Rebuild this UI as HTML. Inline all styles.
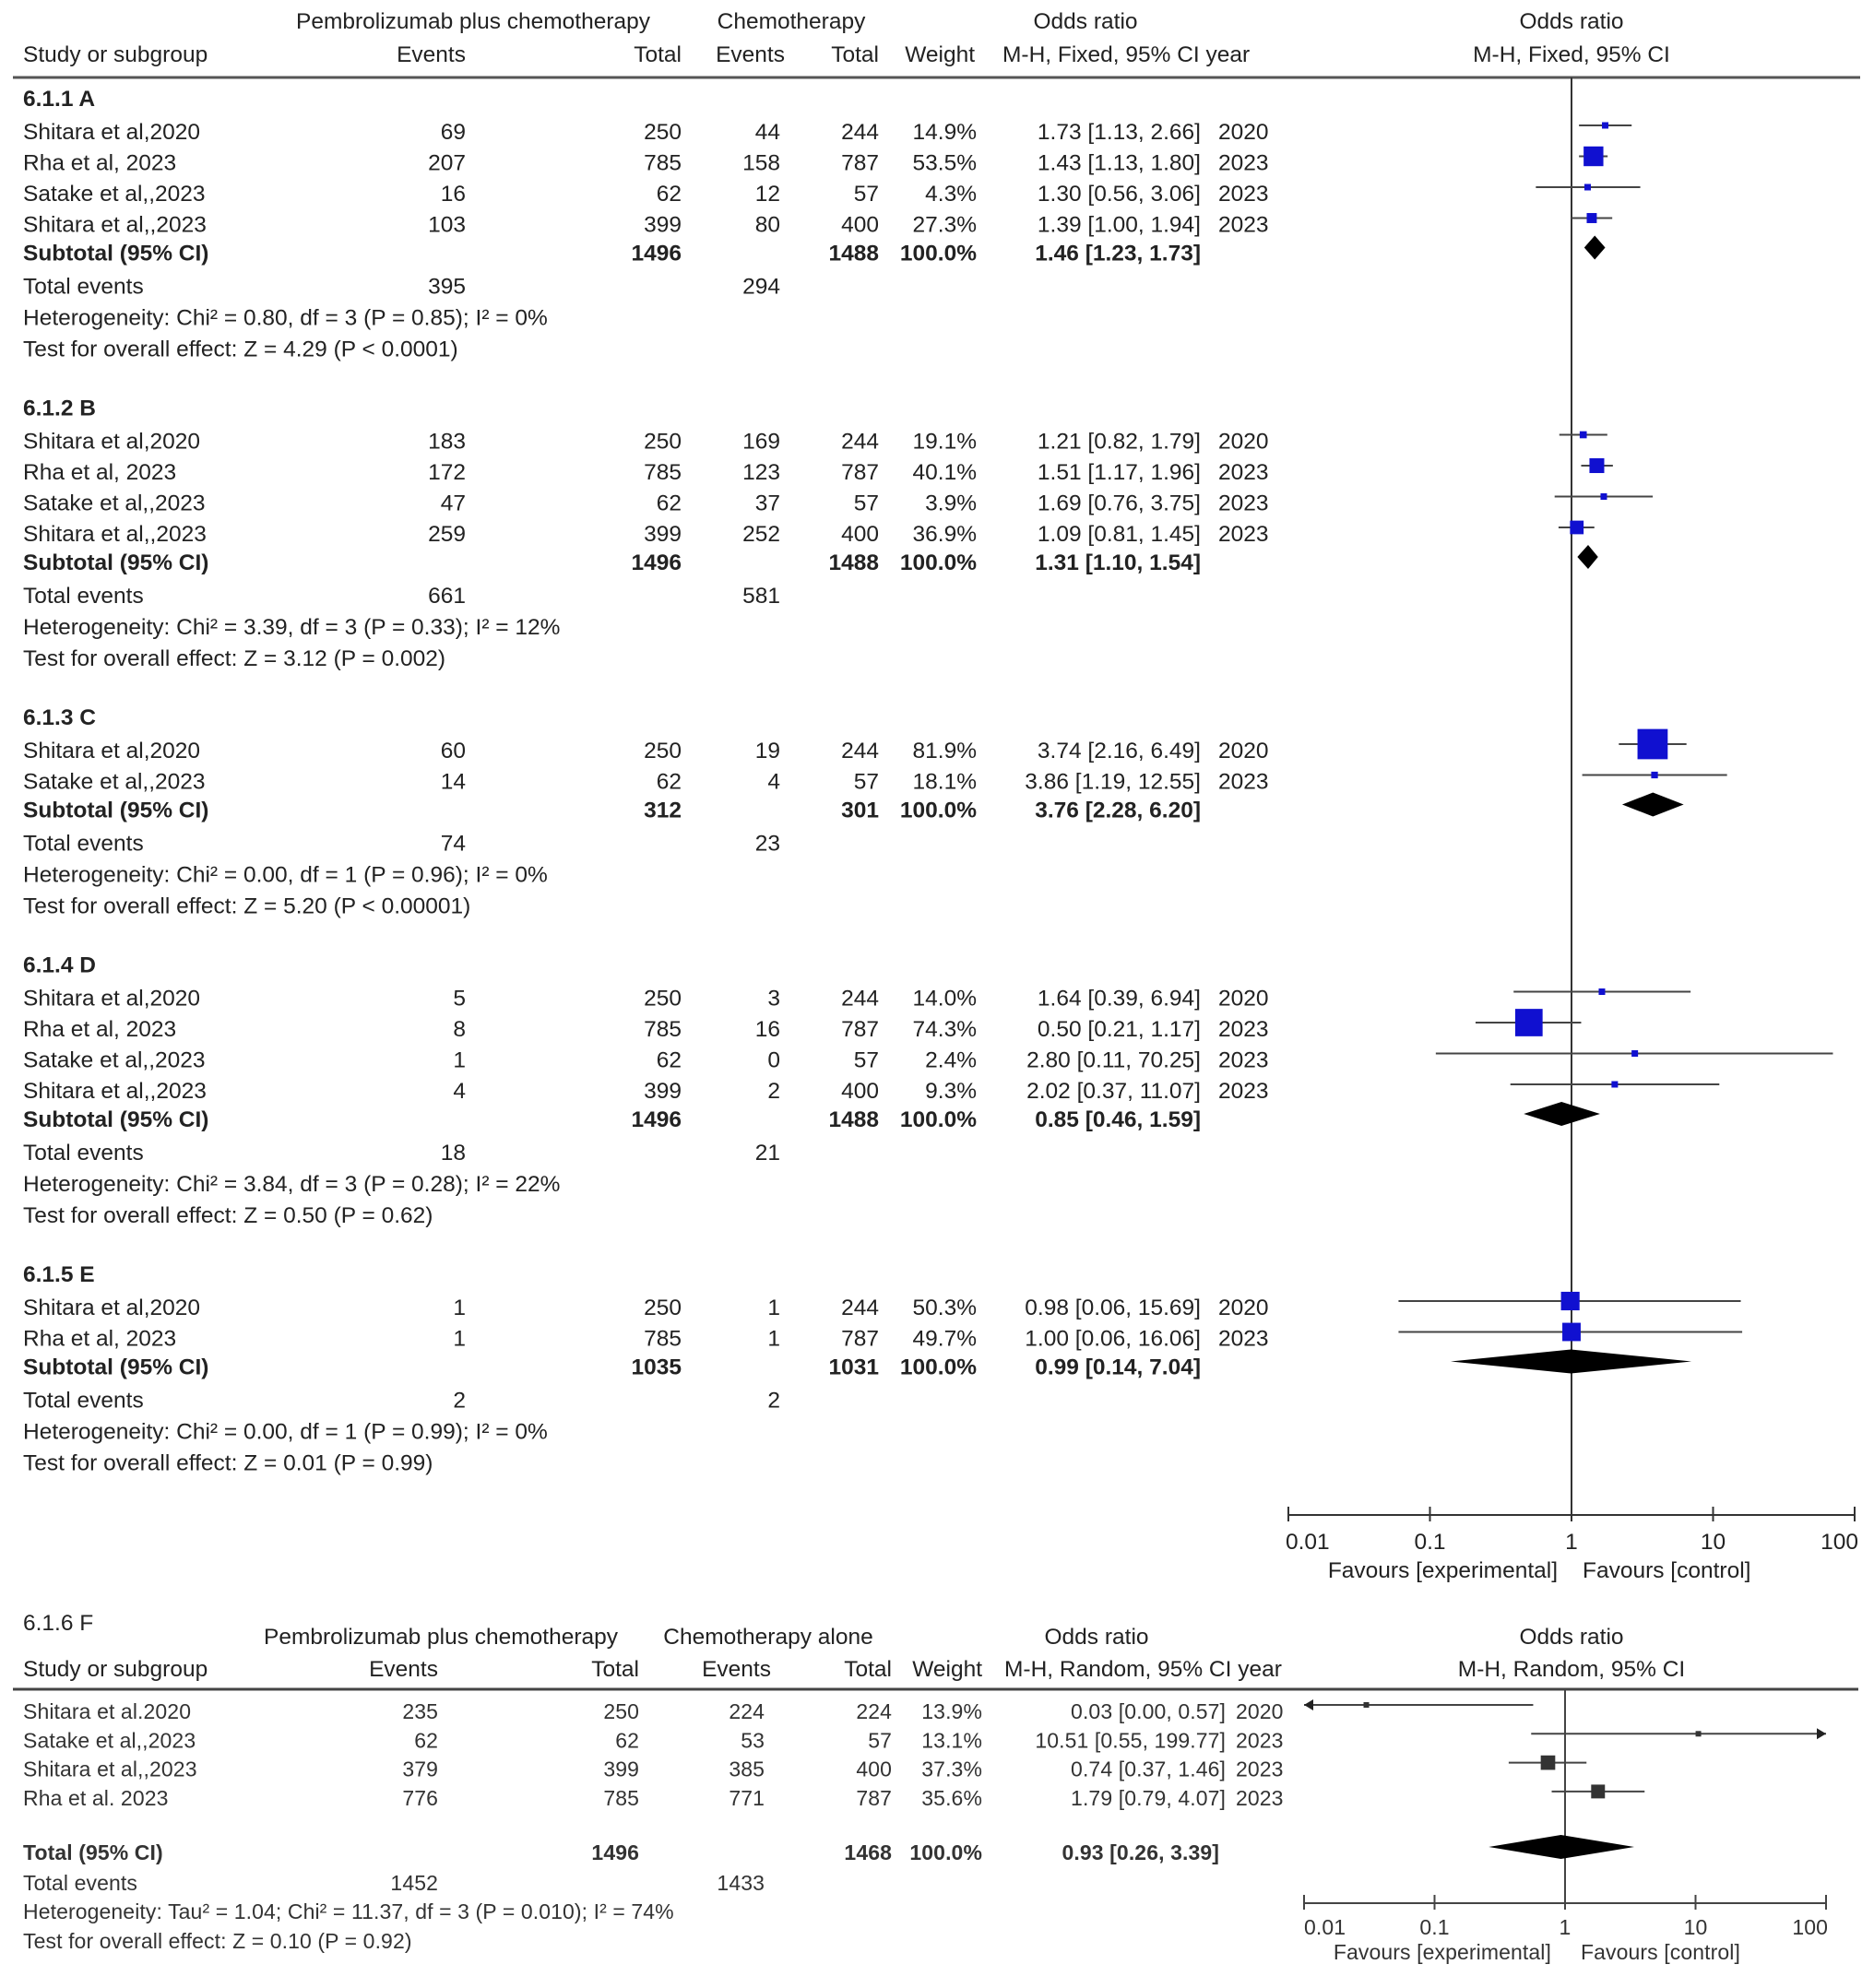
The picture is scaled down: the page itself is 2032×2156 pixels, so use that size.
<!DOCTYPE html>
<html><head><meta charset="utf-8">
<style>
html,body{margin:0;padding:0;background:#fff;}
svg{display:block;font-family:"Liberation Sans",sans-serif;}
.t{font-size:24.5px;fill:#222;letter-spacing:0px;}
.b{font-weight:bold;}
.s{font-size:23px;fill:#333;letter-spacing:0.1px;}
</style></head>
<body>
<svg id="chart" width="2032" height="2156" viewBox="0 0 2032 2156" xmlns="http://www.w3.org/2000/svg"></svg>
<script>
// ---- Top panel data (subgroups A–E) ----
const groupLabels = ['6.1.1 A','6.1.2 B','6.1.3 C','6.1.4 D','6.1.5 E'];
const groupOf = [0,0,0,0, 1,1,1,1, 2,2, 3,3,3,3, 4,4];
const studyNames = ['Shitara et al,2020','Rha et al, 2023','Satake et al,,2023','Shitara et al,,2023',
 'Shitara et al,2020','Rha et al, 2023','Satake et al,,2023','Shitara et al,,2023',
 'Shitara et al,2020','Satake et al,,2023',
 'Shitara et al,2020','Rha et al, 2023','Satake et al,,2023','Shitara et al,,2023',
 'Shitara et al,2020','Rha et al, 2023'];
const expEvents = [69,207,16,103, 183,172,47,259, 60,14, 5,8,1,4, 1,1];
const expTotal = [250,785,62,399, 250,785,62,399, 250,62, 250,785,62,399, 250,785];
const ctlEvents = [44,158,12,80, 169,123,37,252, 19,4, 3,16,0,2, 1,1];
const ctlTotal = [244,787,57,400, 244,787,57,400, 244,57, 244,787,57,400, 244,787];
const weights = [14.9,53.5,4.3,27.3, 19.1,40.1,3.9,36.9, 81.9,18.1, 14.0,74.3,2.4,9.3, 50.3,49.7];
const orVals = [1.73,1.43,1.30,1.39, 1.21,1.51,1.69,1.09, 3.74,3.86, 1.64,0.50,2.80,2.02, 0.98,1.00];
const orLo = [1.13,1.13,0.56,1.00, 0.82,1.17,0.76,0.81, 2.16,1.19, 0.39,0.21,0.11,0.37, 0.06,0.06];
const orHi = [2.66,1.80,3.06,1.94, 1.79,1.96,3.75,1.45, 6.49,12.55, 6.94,1.17,70.25,11.07, 15.69,16.06];
const years = [2020,2023,2023,2023, 2020,2023,2023,2023, 2020,2023, 2020,2023,2023,2023, 2020,2023];
const subExpTotal = [1496,1496,312,1496,1035];
const subCtlTotal = [1488,1488,301,1488,1031];
const subOR = [1.46,1.31,3.76,0.85,0.99];
const subLo = [1.23,1.10,2.28,0.46,0.14];
const subHi = [1.73,1.54,6.20,1.59,7.04];
const subExpEvents = [395,661,74,18,2];
const subCtlEvents = [294,581,23,21,2];
const hetText = ['Heterogeneity: Chi² = 0.80, df = 3 (P = 0.85); I² = 0%','Heterogeneity: Chi² = 3.39, df = 3 (P = 0.33); I² = 12%','Heterogeneity: Chi² = 0.00, df = 1 (P = 0.96); I² = 0%','Heterogeneity: Chi² = 3.84, df = 3 (P = 0.28); I² = 22%','Heterogeneity: Chi² = 0.00, df = 1 (P = 0.99); I² = 0%'];
const testText = ['Test for overall effect: Z = 4.29 (P < 0.0001)','Test for overall effect: Z = 3.12 (P = 0.002)','Test for overall effect: Z = 5.20 (P < 0.00001)','Test for overall effect: Z = 0.50 (P = 0.62)','Test for overall effect: Z = 0.01 (P = 0.99)'];
const tickLabels = ['0.01','0.1','1','10','100'];
const tickValues = [0.01,0.1,1,10,100];

// ---- Bottom panel data (F, random effects) ----
const fNames = ['Shitara et al.2020','Satake et al,,2023','Shitara et al,,2023','Rha et al. 2023'];
const fExpEvents = [235,62,379,776];
const fExpTotal = [250,62,399,785];
const fCtlEvents = [224,53,385,771];
const fCtlTotal = [224,57,400,787];
const fWeights = [13.9,13.1,37.3,35.6];
const fOR = [0.03,10.51,0.74,1.79];
const fLo = [0.00,0.55,0.37,0.79];
const fHi = [0.57,199.77,1.46,4.07];
const fYears = [2020,2023,2023,2023];
const fTotOR = [0.93], fTotLo = [0.26], fTotHi = [3.39];
const fTotals = [1496,1468];
const fTotEvents = [1452,1433];

const NS='http://www.w3.org/2000/svg';
const svg=document.getElementById('chart');
function mk(tag,attrs,parent){const e=document.createElementNS(NS,tag);for(const k in attrs)e.setAttribute(k,attrs[k]);(parent||svg).appendChild(e);return e;}
function txt(x,y,s,anchor,cls,name){const e=mk('text',{x:x,y:y,'text-anchor':anchor||'start','class':cls||'t'});e.textContent=s;


return e;}
function fmt(v){return v.toFixed(2);}

// axis functions
const topCenter=1704, topDec=153.5;
function xTop(v){return topCenter+topDec*Math.log10(v);}
const botCenter=1697, botDec=141.5;
function xBot(v){return botCenter+botDec*Math.log10(Math.max(v,0.01));}
function clampBot(v){return Math.min(Math.max(v,0.01),100);}

// ===== Top headers =====
txt(513,31,'Pembrolizumab plus chemotherapy','middle','t','header-experimental');
txt(858,31,'Chemotherapy','middle','t','header-control');
txt(1177,31,'Odds ratio','middle','t','header-odds-ratio');
txt(1704,31,'Odds ratio','middle','t','header-odds-ratio-plot');
txt(25,67,'Study or subgroup','start','t','header-study');
txt(505,67,'Events','end','t','header-exp-events');
txt(739,67,'Total','end','t','header-exp-total');
txt(851,67,'Events','end','t','header-ctl-events');
txt(953,67,'Total','end','t','header-ctl-total');
txt(1057,67,'Weight','end','t','header-weight');
txt(1087,67,'M-H, Fixed, 95% CI year','start','t','header-method');
txt(1704,67,'M-H, Fixed, 95% CI','middle','t','header-method-plot');
let r=mk('line',{x1:14,y1:84,x2:2017,y2:84,stroke:'#555','stroke-width':3});

let vl=mk('line',{x1:xTop(1),y1:84,x2:xTop(1),y2:1643,stroke:'#333','stroke-width':2});


// ===== Top body =====
let h=106;
for(let g=0;g<groupLabels.length;g++){
  txt(25,h+9,groupLabels[g],'start','t b','subgroup-title');
  const idx=[];groupOf.forEach((gg,i)=>{if(gg===g)idx.push(i);});
  let y=h+36;
  idx.forEach((i,k)=>{
    const c=h+36+33.5*k; y=c;
    txt(25,c+9,studyNames[i],'start','t','study-name');
    txt(505,c+9,String(expEvents[i]),'end','t','exp-events');
    txt(739,c+9,String(expTotal[i]),'end','t','exp-total');
    txt(846,c+9,String(ctlEvents[i]),'end','t','ctl-events');
    txt(953,c+9,String(ctlTotal[i]),'end','t','ctl-total');
    txt(1059,c+9,weights[i].toFixed(1)+'%','end','t','weight');
    txt(1302,c+9,fmt(orVals[i])+' ['+fmt(orLo[i])+', '+fmt(orHi[i])+']','end','t','odds-ratio-ci');
    txt(1321,c+9,String(years[i]),'start','t','year');
    const my=c-6;
    const ln=mk('line',{x1:xTop(orLo[i]),y1:my,x2:xTop(orHi[i]),y2:my,stroke:'#444','stroke-width':2});
    
    
    const sz=Math.max(7,0.4*weights[i]);
    const sq=mk('rect',{x:xTop(orVals[i])-sz/2,y:my-sz/2,width:sz,height:sz,fill:'#1010d0'});
    
    
  });
  const sub=y+31;
  txt(25,sub+9,'Subtotal (95% CI)','start','t b','subtotal-label');
  txt(739,sub+9,String(subExpTotal[g]),'end','t b','subtotal-exp-total');
  txt(953,sub+9,String(subCtlTotal[g]),'end','t b','subtotal-ctl-total');
  txt(1059,sub+9,'100.0%','end','t b','subtotal-weight');
  txt(1302,sub+9,fmt(subOR[g])+' ['+fmt(subLo[g])+', '+fmt(subHi[g])+']','end','t b','subtotal-or');
  const dy=sub-5,dh=13;
  const dm=mk('polygon',{points:`${xTop(subLo[g])},${dy} ${xTop(subOR[g])},${dy-dh} ${xTop(subHi[g])},${dy} ${xTop(subOR[g])},${dy+dh}`,fill:'#000'});
  
  
  const te=sub+36;
  txt(25,te+9,'Total events','start','t','total-events-label');
  txt(505,te+9,String(subExpEvents[g]),'end','t','total-exp-events');
  txt(846,te+9,String(subCtlEvents[g]),'end','t','total-ctl-events');
  const het=te+34;
  txt(25,het+9,hetText[g],'start','t','heterogeneity');
  const ts=het+34;
  txt(25,ts+9,testText[g],'start','t','overall-effect');
  h=ts+64;
}

// top axis
const ay=1643;
let ax=mk('line',{x1:xTop(0.01),y1:ay,x2:xTop(100),y2:ay,stroke:'#333','stroke-width':2});

tickValues.forEach((v,i)=>{
  const t=mk('line',{x1:xTop(v),y1:ay-9,x2:xTop(v),y2:ay+7,stroke:'#333','stroke-width':2});
  
  
  const anc=i===0?'start':(i===4?'end':'middle');
  txt(xTop(v)+(i===0?-3:(i===4?4:0)),ay+37,tickLabels[i],anc,'t','x-tick-label');
});
txt(1689,1711,'Favours [experimental]','end','t','favours-experimental');
txt(1716,1711,'Favours [control]','start','t','favours-control');

// ===== Bottom panel =====
txt(25,1768,'6.1.6 F','start','t','subgroup-title-f');
txt(478,1783,'Pembrolizumab plus chemotherapy','middle','t','header-experimental-f');
txt(833,1783,'Chemotherapy alone','middle','t','header-control-f');
txt(1189,1783,'Odds ratio','middle','t','header-odds-ratio-f');
txt(1704,1783,'Odds ratio','middle','t','header-odds-ratio-plot-f');
txt(25,1818,'Study or subgroup','start','t','header-study-f');
txt(475,1818,'Events','end','t','header-exp-events-f');
txt(693,1818,'Total','end','t','header-exp-total-f');
txt(836,1818,'Events','end','t','header-ctl-events-f');
txt(967,1818,'Total','end','t','header-ctl-total-f');
txt(1065,1818,'Weight','end','t','header-weight-f');
txt(1089,1818,'M-H, Random, 95% CI year','start','t','header-method-f');
txt(1704,1818,'M-H, Random, 95% CI','middle','t','header-method-plot-f');
let r2=mk('line',{x1:14,y1:1832,x2:2015,y2:1832,stroke:'#444','stroke-width':3});

let vl2=mk('line',{x1:xBot(1),y1:1832,x2:xBot(1),y2:2064,stroke:'#444','stroke-width':2});


fNames.forEach((n,i)=>{
  const c=1856+31.3*i;
  txt(25,c+8,n,'start','s','study-name-f');
  txt(475,c+8,String(fExpEvents[i]),'end','s','exp-events-f');
  txt(693,c+8,String(fExpTotal[i]),'end','s','exp-total-f');
  txt(829,c+8,String(fCtlEvents[i]),'end','s','ctl-events-f');
  txt(967,c+8,String(fCtlTotal[i]),'end','s','ctl-total-f');
  txt(1065,c+8,fWeights[i].toFixed(1)+'%','end','s','weight-f');
  txt(1329,c+8,fmt(fOR[i])+' ['+fmt(fLo[i])+', '+fmt(fHi[i])+']','end','s','odds-ratio-ci-f');
  txt(1340,c+8,String(fYears[i]),'start','s','year-f');
  const my=c-7;
  const x1=xBot(clampBot(fLo[i])),x2=xBot(clampBot(fHi[i]));
  const ln=mk('line',{x1:x1,y1:my,x2:x2,y2:my,stroke:'#444','stroke-width':2});
  
  
  if(fLo[i]<0.01){
    const a=mk('polygon',{points:`${x1},${my} ${x1+10},${my-6} ${x1+10},${my+6}`,fill:'#222'});
    
    
  }
  if(fHi[i]>100){
    const a=mk('polygon',{points:`${x2},${my} ${x2-10},${my-6} ${x2-10},${my+6}`,fill:'#222'});
    
    
  }
  const sz=Math.max(6,0.42*fWeights[i]);
  const sq=mk('rect',{x:xBot(fOR[i])-sz/2,y:my-sz/2,width:sz,height:sz,fill:'#333'});
  
  
});
const tc=2009;
txt(25,tc+8,'Total (95% CI)','start','s b','total-label-f');
txt(693,tc+8,String(fTotals[0]),'end','s b','total-exp-f');
txt(967,tc+8,String(fTotals[1]),'end','s b','total-ctl-f');
txt(1065,tc+8,'100.0%','end','s b','total-weight-f');
txt(1322,tc+8,fmt(fTotOR[0])+' ['+fmt(fTotLo[0])+', '+fmt(fTotHi[0])+']','end','s b','total-or-f');
const dy2=tc-6;
const dm2=mk('polygon',{points:`${xBot(fTotLo[0])},${dy2} ${xBot(fTotOR[0])},${dy2-13} ${xBot(fTotHi[0])},${dy2} ${xBot(fTotOR[0])},${dy2+13}`,fill:'#000'});


txt(25,2050,'Total events','start','s','total-events-label-f');
txt(475,2050,String(fTotEvents[0]),'end','s','total-exp-events-f');
txt(829,2050,String(fTotEvents[1]),'end','s','total-ctl-events-f');
txt(25,2081,'Heterogeneity: Tau² = 1.04; Chi² = 11.37, df = 3 (P = 0.010); I² = 74%','start','s','heterogeneity-f');
txt(25,2113,'Test for overall effect: Z = 0.10 (P = 0.92)','start','s','overall-effect-f');

const by=2064;
let bx=mk('line',{x1:xBot(0.01),y1:by,x2:xBot(100),y2:by,stroke:'#444','stroke-width':2});

tickValues.forEach((v,i)=>{
  const t=mk('line',{x1:xBot(v),y1:by-9,x2:xBot(v),y2:by+7,stroke:'#444','stroke-width':2});
  
  
  const anc=i===0?'start':(i===4?'end':'middle');
  txt(xBot(v)+(i===0?0:(i===4?2:0)),by+34,tickLabels[i],anc,'s','x-tick-label-f');
});
txt(1682,2125,'Favours [experimental]','end','s','favours-experimental-f');
txt(1714,2125,'Favours [control]','start','s','favours-control-f');
</script>
</body></html>
